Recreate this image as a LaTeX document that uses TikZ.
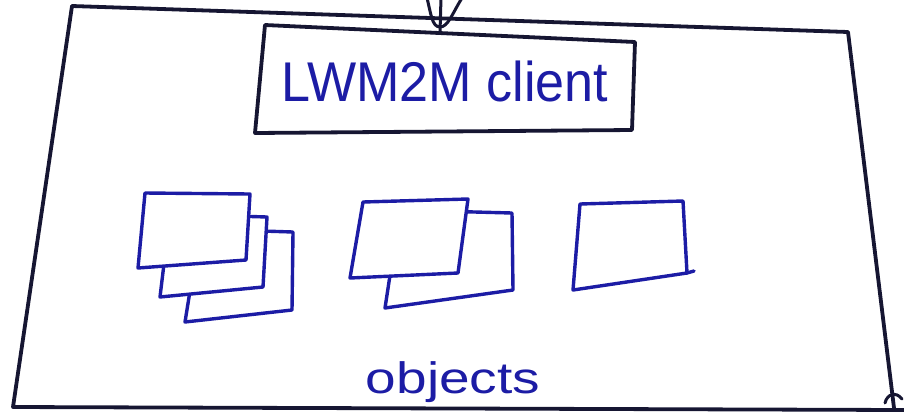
\documentclass[tikz,border=0pt]{standalone}
\usepackage{fontspec}
\setmainfont{Liberation Sans}
\definecolor{pen}{RGB}{28,28,165}
\definecolor{ink}{RGB}{22,22,50}
\begin{document}
\begin{tikzpicture}[x=1pt,y=-1pt,
  frame/.style={draw=ink, line width=3.8pt, line join=round, line cap=round},
  sheet/.style={draw=pen, line width=3.4pt, line join=round, line cap=round, fill=white},
  hand/.style={text=pen, inner sep=0pt, anchor=base}]
\useasboundingbox (0,0) rectangle (904,416);

% device outline
\draw[frame] (72,6) -- (848,32) -- (894,408);
\draw[frame] (72,6) -- (13,407) -- (904,410);

% incoming arrow at the top edge
\coordinate (feed) at (441,-2);
\coordinate (tip) at (440,27);
\draw[frame, line width=3pt] (feed) -- ([yshift=-5pt]tip);
\draw[frame, line width=3pt] (427,-2) .. controls (431,14) and (432,27) .. (tip)
  .. controls (448,27) and (452,14) .. (462,-2);

% small arrow tip at the lower right corner
\draw[frame, line width=3pt] (885,403) .. controls (887,394) and (896,391) .. (902,399);

% client box
\draw[frame] (265,25) -- (635,42) -- (632,130) -- (255,133) -- cycle;
\node[hand, font=\fontsize{56}{60}\selectfont] (client) at (445,101)
  {\scalebox{0.93}[1]{LWM2M client}};

% object instances: stack of three
\draw[sheet] (200,229) -- (293,232) -- (292,310) -- (185,322) -- cycle;
\draw[sheet] (170,214) -- (267,217) -- (263,287) -- (160,297) -- cycle;
\draw[sheet] (145,193) -- (250,194) -- (246,260) -- (138,268) -- cycle;

% stack of two
\draw[sheet] (400,210) -- (512,213) -- (513,290) -- (385,308) -- cycle;
\draw[sheet] (363,202) -- (468,199) -- (458,273) -- (350,278) -- cycle;

% single instance
\draw[sheet] (580,204) -- (683,201) -- (687,273) -- (573,290) -- cycle;
\draw[sheet] (687,273) -- (694,271);

\node[hand, font=\fontsize{44}{48}\selectfont] (objs) at (453,393)
  {\scalebox{1.25}[1]{objects}};
\end{tikzpicture}
\end{document}
